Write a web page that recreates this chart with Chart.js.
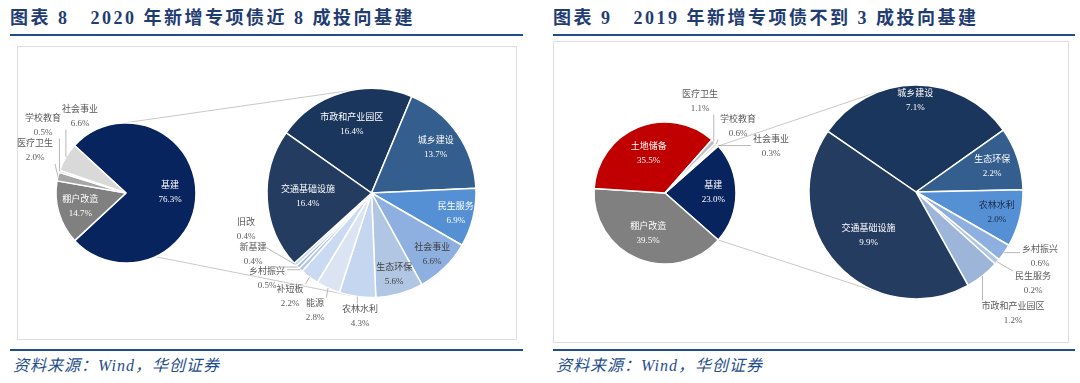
<!DOCTYPE html>
<html><head><meta charset="utf-8">
<script src="https://cdn.jsdelivr.net/npm/chart.js@4.4.0/dist/chart.umd.min.js"></script>
<style>
body{margin:0;width:1080px;height:383px;background:#fff;position:relative;overflow:hidden;font-family:"Liberation Serif","Noto Sans CJK SC",serif;}
.title{position:absolute;top:8px;line-height:20px;font-weight:bold;font-size:18px;color:#1f3c73;white-space:nowrap;letter-spacing:2.5px}
.rule{position:absolute;height:2px;background:#1f4e8c}
.box{position:absolute;border:1px solid #dedede;box-sizing:border-box}
.src{position:absolute;top:356px;line-height:20px;font-style:italic;font-size:16px;color:#1f4e8c;white-space:nowrap;letter-spacing:1px}
canvas{position:absolute;left:0;top:0}
</style></head><body>
<div class="title" style="left:10px">图表 8&nbsp;&nbsp;&nbsp;2020 年新增专项债近 8 成投向基建</div>
<div class="title" style="left:553px">图表 9&nbsp;&nbsp;&nbsp;2019 年新增专项债不到 3 成投向基建</div>
<div class="rule" style="left:10px;top:34px;width:513px"></div>
<div class="rule" style="left:553px;top:34px;width:522px"></div>
<div class="box" style="left:17px;top:46px;width:500px;height:294px"></div>
<div class="box" style="left:553px;top:41px;width:516px;height:302px"></div>
<div class="rule" style="left:10px;top:349px;width:513px"></div>
<div class="rule" style="left:553px;top:349px;width:522px"></div>
<div class="src" style="left:13px">资料来源：Wind，华创证券</div>
<div class="src" style="left:556px">资料来源：Wind，华创证券</div>
<canvas id="p20" width="1080" height="383"></canvas>
<canvas id="s20" width="1080" height="383"></canvas>
<canvas id="p19" width="1080" height="383"></canvas>
<canvas id="s19" width="1080" height="383"></canvas>
<script>
// ---- data ----
const p20Labels = ['基建','棚户改造','医疗卫生','学校教育','社会事业'];
const p20Values = [76.3,14.7,2.0,0.5,6.6];
const s20Labels = ['市政和产业园区','城乡建设','民生服务','社会事业','生态环保','农林水利','能源','补短板','乡村振兴','新基建','旧改','交通基础设施'];
const s20Values = [16.4,13.7,6.9,6.6,5.6,4.3,2.8,2.2,0.5,0.4,0.4,16.4];
const p19Labels = ['基建','棚户改造','土地储备','医疗卫生','学校教育','社会事业'];
const p19Values = [23.0,39.5,35.5,1.1,0.6,0.3];
const s19Labels = ['城乡建设','生态环保','农林水利','乡村振兴','民生服务','市政和产业园区','交通基础设施'];
const s19Values = [7.1,2.2,2.0,0.6,0.2,1.2,9.9];

// ---- styles ----
const W=1080,H=383;
const p20Colors=['#07245f','#808080','#a6a6a6','#c4c4c4','#d9d9d9'];
const s20Colors=['#1b365d','#335e8e','#5590d5','#8db0e0','#b1c6e2','#c5d7f0','#dbe4f2','#c9daf2','#b4c7e7','#9fb8e0','#c5d5ee','#243c60'];
const p19Colors=['#07245f','#808080','#c00000','#bfbfbf','#d0d0d0','#e4e4e4'];
const s19Colors=['#1b365d','#335e8e','#5590d5','#8db0e0','#b1c6e2','#9db5d8','#243c60'];
const GEO={p20:{cx:126,cy:193,r:70,rot:-47.3},s20:{cx:371.5,cy:193,r:104.5,rot:-54.8},
           p19:{cx:665,cy:193,r:71,rot:48.6},s19:{cx:916,cy:192,r:107,rot:-55.5}};
const OUT='#595959', WH='#ffffff';
const p20Lab=[{f:0.63,c:WH},{f:0.68,c:WH},{dx:-91,dy:-42,c:OUT},{dx:-83,dy:-67.5,c:OUT},{dx:-46,dy:-76.5,c:OUT}];
const s20Lab=[{f:0.68,c:WH},{f:0.75,c:WH},{f:0.83,c:WH},{f:0.83,c:'#404040'},{f:0.81,c:'#404040'},
  {dx:-11.5,dy:123.5,c:OUT},{dx:-56.5,dy:117.5,c:OUT},{dx:-81.5,dy:104,c:OUT},{dx:-104.5,dy:85.5,c:OUT},
  {dx:-118.5,dy:62,c:OUT},{dx:-125.5,dy:36.5,c:OUT},{f:0.61,c:WH}];
const p19Lab=[{f:0.68,c:WH},{f:0.62,c:WH},{f:0.6,c:WH},{dx:35,dy:-91.5,c:OUT},{dx:73,dy:-66.5,c:OUT},{dx:106,dy:-46,c:OUT}];
const s19Lab=[{f:0.85,c:WH},{f:0.75,c:WH},{f:0.78,c:'#1a2a4a'},{dx:124,dy:64.5,c:OUT},{dx:117,dy:92,c:OUT},{dx:97,dy:121.5,c:OUT},{f:0.6,c:WH}];

const FONT='9px "Liberation Serif","Noto Sans CJK SC",serif';
const labelPlugin={id:'lbl',afterDatasetsDraw(chart){
  const spec=chart.options.plugins.lbl.spec, names=chart.data.labels, vals=chart.data.datasets[0].data;
  const ctx=chart.ctx; ctx.save(); ctx.font=FONT; ctx.textAlign='center'; ctx.textBaseline='middle';
  chart.getDatasetMeta(0).data.forEach((arc,i)=>{
    const p=arc.getProps(['x','y','startAngle','endAngle','outerRadius'],true);
    const mid=(p.startAngle+p.endAngle)/2, s=spec[i];
    const l1=names[i], l2=vals[i].toFixed(1)+'%';
    let lx,ly;
    if(s.f!==undefined){lx=p.x+Math.cos(mid)*p.outerRadius*s.f; ly=p.y+Math.sin(mid)*p.outerRadius*s.f;}
    else{
      lx=p.x+s.dx; ly=p.y+s.dy;
      const w=Math.max(ctx.measureText(l1).width,ctx.measureText(l2).width)/2+2;
      const ex=p.x+Math.cos(mid)*p.outerRadius, ey=p.y+Math.sin(mid)*p.outerRadius;
      const bx=Math.min(Math.max(ex,lx-w),lx+w), by=Math.min(Math.max(ey,ly-13),ly+13);
      ctx.strokeStyle='#a6a6a6'; ctx.lineWidth=0.8; ctx.beginPath(); ctx.moveTo(ex,ey); ctx.lineTo(bx,by); ctx.stroke();
    }
    ctx.fillStyle=s.c; ctx.fillText(l1,lx,ly-7); ctx.fillText(l2,lx,ly+7);
  });
  ctx.restore();
}};
function tangent(px,py,g,upper){
  const dx=g.cx-px, dy=g.cy-py, d=Math.hypot(dx,dy), th=Math.atan2(dy,dx), al=Math.asin(g.r/d), L=Math.sqrt(d*d-g.r*g.r);
  const dir=upper?th-al:th+al; return [px+L*Math.cos(dir),py+L*Math.sin(dir)];
}
const connPlugin={id:'conn',beforeDatasetsDraw(chart){
  const o=chart.options.plugins.conn, sec=GEO[o.sec];
  const a=chart.getDatasetMeta(0).data[0].getProps(['x','y','startAngle','endAngle','outerRadius'],true);
  const upA=o.topStart?-Math.PI/2-0.035:a.startAngle;
  const pts=[[upA,true],[a.endAngle,false]];
  const ctx=chart.ctx; ctx.save(); ctx.strokeStyle='#c8c8c8'; ctx.lineWidth=1;
  pts.forEach(([ang,up])=>{
    const sx=a.x+Math.cos(ang)*a.outerRadius, sy=a.y+Math.sin(ang)*a.outerRadius;
    const t=tangent(sx,sy,sec,up);
    ctx.beginPath(); ctx.moveTo(sx,sy); ctx.lineTo(t[0],t[1]); ctx.stroke();
  });
  ctx.restore();
}};
function makePie(id,labels,values,colors,spec,conn){
  const g=GEO[id];
  return new Chart(document.getElementById(id),{type:'pie',
    data:{labels:labels,datasets:[{data:values,backgroundColor:colors,borderColor:'#ffffff',borderWidth:1.5}]},
    options:{responsive:false,animation:false,events:[],rotation:g.rot,radius:g.r,
      layout:{padding:{left:g.cx-g.r,right:W-g.cx-g.r,top:g.cy-g.r,bottom:H-g.cy-g.r}},
      plugins:{legend:{display:false},tooltip:{enabled:false},lbl:{spec:spec},conn:conn||false}},
    plugins:conn?[connPlugin,labelPlugin]:[labelPlugin]});
}
makePie('p20',p20Labels,p20Values,p20Colors,p20Lab,{sec:'s20',topStart:true});
makePie('s20',s20Labels,s20Values,s20Colors,s20Lab);
makePie('p19',p19Labels,p19Values,p19Colors,p19Lab,{sec:'s19',topStart:false});
makePie('s19',s19Labels,s19Values,s19Colors,s19Lab);
</script>
</body></html>
